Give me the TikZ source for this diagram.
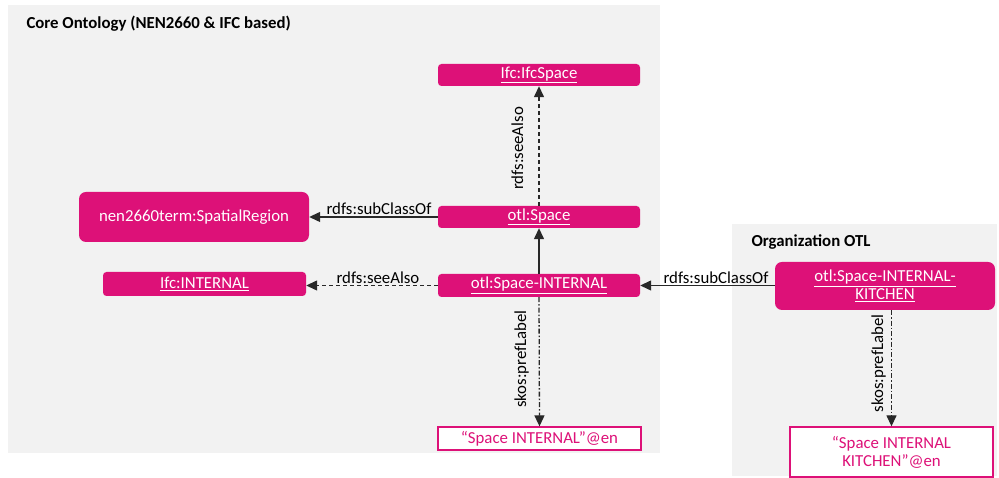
\documentclass[tikz,border=0pt]{standalone}
\usepackage{fontspec}
\setmainfont{Carlito}
\usetikzlibrary{arrows.meta}
\definecolor{tmag}{RGB}{221,17,120}
\definecolor{panelgray}{RGB}{242,242,242}
\definecolor{linkline}{RGB}{40,40,40}
\newcommand\lnk[1]{\underline{#1}}
\begin{document}
\begin{tikzpicture}[x=1pt,y=1pt,
  font=\fontsize{16.8}{18}\selectfont,
  panel/.style={fill=panelgray, draw=none},
  title/.style={anchor=base west, font=\fontsize{16.8}{18}\selectfont\bfseries},
  cls/.style={fill=tmag, draw=none, text=white, rounded corners=3.5pt,
              inner sep=0pt, align=center},
  bigcls/.style={cls, rounded corners=7pt},
  lit/.style={fill=white, draw=tmag, line width=1.3pt, text=tmag,
              inner sep=0pt, align=center},
  rel/.style={draw=linkline, line width=1.3pt,
              -{Triangle[length=11pt,width=10pt]}},
  seealso/.style={rel, dash pattern=on 4pt off 3pt},
  preflabel/.style={rel, dash pattern=on 5pt off 2pt on 1.5pt off 2pt},
  rellabel/.style={text=black, inner sep=1.5pt}
]
\useasboundingbox (0,0) rectangle (999,478);

% background panels
\fill[panel] (8,25) rectangle (660,473);
\fill[panel] (732,2) rectangle (997,254);

\node[title] (coretitle) at (23,449.5) {Core Ontology (NEN2660 \& IFC based)};
\node[title] (orgtitle) at (748,231) {Organization OTL};

% core ontology classes
\node[cls, minimum width=202pt, minimum height=22pt] (ifcspace) at (539,403) {\lnk{Ifc:IfcSpace}};
\node[cls, minimum width=202pt, minimum height=22pt] (space) at (539,261) {\lnk{otl:Space}};
\node[cls, minimum width=202pt, minimum height=23pt] (spaceint) at (539,192.5) {\lnk{otl:Space-INTERNAL}};
\node[bigcls, minimum width=230pt, minimum height=50pt] (spatial) at (194,261) {nen2660term:SpatialRegion};
\node[cls, minimum width=203pt, minimum height=24pt] (ifcint) at (204.5,194) {\lnk{Ifc:INTERNAL}};
\node[lit, minimum width=203pt, minimum height=23pt] (spaceintlbl) at (539.5,39.5) {“Space INTERNAL”@en};

% organization classes
\node[bigcls, minimum width=220pt, minimum height=48pt] (kitchen) at (885,192)
  {\lnk{otl:Space-INTERNAL-}\\\lnk{KITCHEN}};
\node[lit, minimum width=203pt, minimum height=50pt] (kitchenlbl) at (891.5,26)
  {“Space INTERNAL\\KITCHEN”@en};

% relations
\draw[rel] (space.west) -- (spatial.east)
  node[rellabel, pos=0.457, anchor=south] (l1) {rdfs:subClassOf};
\draw[seealso] (spaceint.west) -- (ifcint.east |- spaceint.west)
  node[rellabel, pos=0.455, anchor=south] (l2) {rdfs:seeAlso};
\draw[rel] (spaceint.north) -- (space.south);
\draw[seealso] (space.north) -- (ifcspace.south);
\draw[preflabel] (spaceint.south) -- (spaceintlbl.north);
\draw[rel] (kitchen.west |- spaceint.east) -- (spaceint.east)
  node[rellabel, pos=0.437, anchor=south] (l3) {rdfs:subClassOf};
\coordinate (kpl) at (kitchenlbl.north |- kitchen.south);
\draw[preflabel] (kpl) -- (kitchenlbl.north);

% vertical relation labels
\node[rellabel, rotate=90, anchor=base, inner sep=0pt] (l4) at (523,329.5) {rdfs:seeAlso};
\node[rellabel, rotate=90, anchor=base, inner sep=0pt] (l5) at (526,119) {skos:prefLabel};
\node[rellabel, rotate=90, anchor=base, inner sep=0pt] (l6) at (883,114.5) {skos:prefLabel};
\end{tikzpicture}
\end{document}
